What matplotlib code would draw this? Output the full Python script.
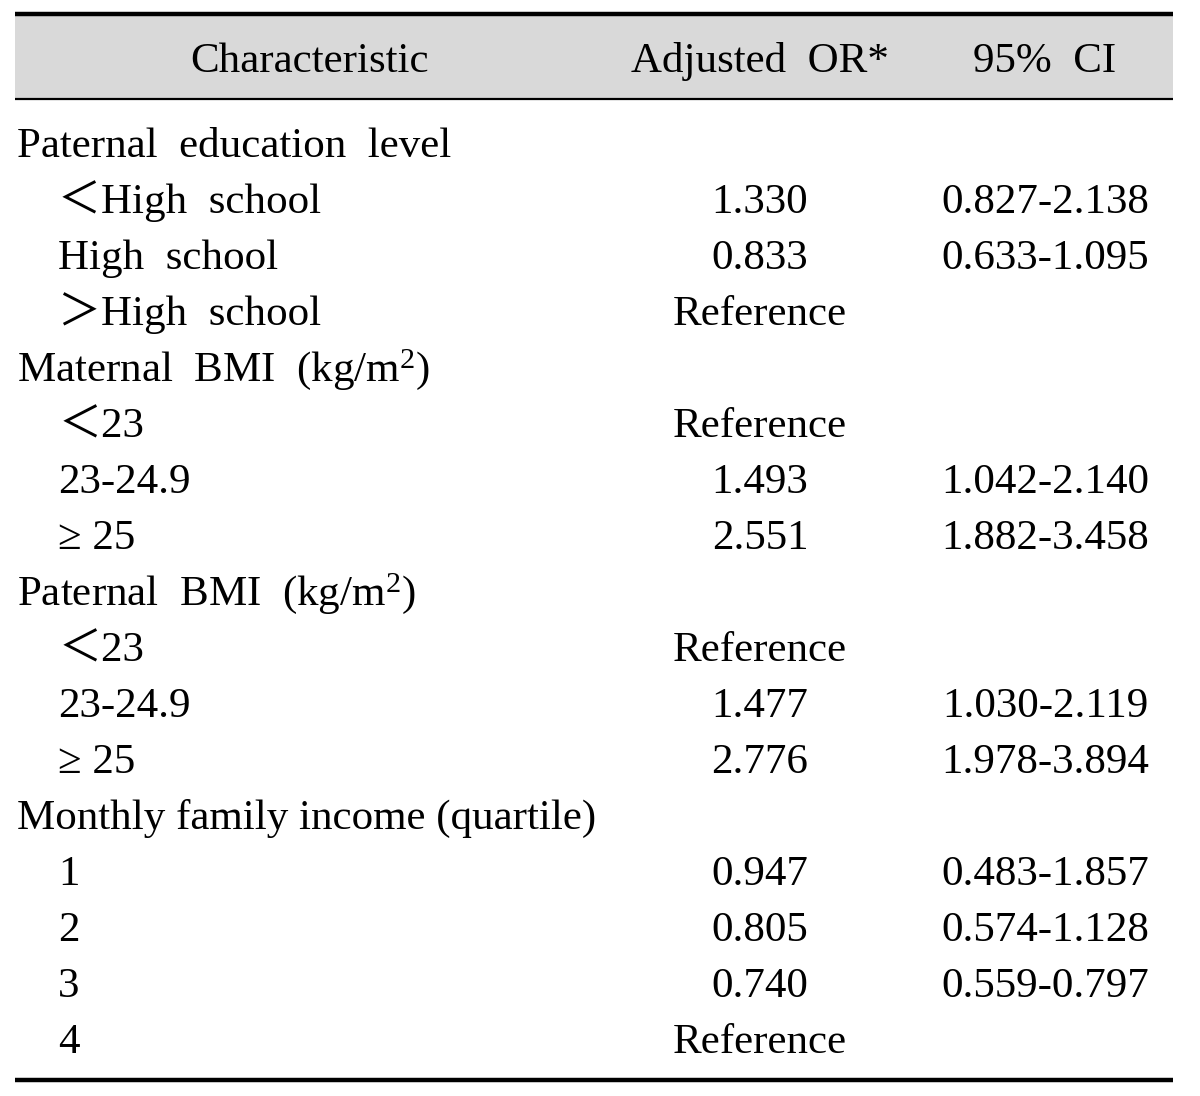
#!/usr/bin/env python3
# Table: adjusted odds ratios with 95% CI, drawn as a plain ruled table.
import matplotlib
matplotlib.use("Agg")
import matplotlib.pyplot as plt
import matplotlib.patches as mpatches

HEADERS = ["Characteristic", "Adjusted  OR*", "95%  CI"]

LABELS = [
    "Paternal  education  level",
    "\uff1cHigh  school",
    "High  school",
    "\uff1eHigh  school",
    "Maternal  BMI  (kg/m$^2$)",
    "\uff1c23",
    "23-24.9",
    "\u2265 25",
    "Paternal  BMI  (kg/m$^2$)",
    "\uff1c23",
    "23-24.9",
    "\u2265 25",
    "Monthly family income (quartile)",
    "1",
    "2",
    "3",
    "4",
]
INDENT = [0, 1, 1, 1, 0, 1, 1, 1, 0, 1, 1, 1, 0, 1, 1, 1, 1]
ODDS = ["", "1.330", "0.833", "Reference",
        "", "Reference", "1.493", "2.551",
        "", "Reference", "1.477", "2.776",
        "", "0.947", "0.805", "0.740", "Reference"]
CI = ["", "0.827-2.138", "0.633-1.095", "",
      "", "", "1.042-2.140", "1.882-3.458",
      "", "", "1.030-2.119", "1.978-3.894",
      "", "0.483-1.857", "0.574-1.128", "0.559-0.797", ""]

plt.rcParams.update({
    "font.family": ["Liberation Serif", "Noto Sans CJK KR", "DejaVu Serif"],
    "mathtext.fontset": "custom",
    "mathtext.rm": "Liberation Serif",
    "mathtext.it": "Liberation Serif:italic",
    "font.size": 31,
})

W, H = 1200, 1096
fig = plt.figure(figsize=(W / 100, H / 100), dpi=100)
ax = fig.add_axes([0, 0, 1, 1])
ax.set_xlim(0, W); ax.set_ylim(H, 0)
ax.axis("off")

X0, X1 = 15, 1173
# header band + rules
ax.add_patch(mpatches.Rectangle((X0, 15), X1 - X0, 84, facecolor="#d9d9d9", edgecolor="none"))
ax.plot([X0, X1], [14, 14], color="black", lw=3.2, solid_capstyle="butt")
ax.plot([X0, X1], [99, 99], color="black", lw=1.6, solid_capstyle="butt")
ax.plot([X0, X1], [1080, 1080], color="black", lw=3.2, solid_capstyle="butt")

COL_X = [310, 760, 1045]
for x, h in zip(COL_X, HEADERS):
    ax.text(x, 72, h, ha="center", va="baseline")

ROW0, STEP = 157, 56   # baseline of first row, row pitch
for i, (lab, ind, o, c) in enumerate(zip(LABELS, INDENT, ODDS, CI)):
    y = ROW0 + i * STEP
    ax.text(17 + 41 * ind, y, lab, ha="left", va="baseline")
    if o:
        ax.text(COL_X[1], y, o, ha="center", va="baseline")
    if c:
        ax.text(COL_X[2], y, c, ha="center", va="baseline")

fig.savefig("out.png", dpi=100)
